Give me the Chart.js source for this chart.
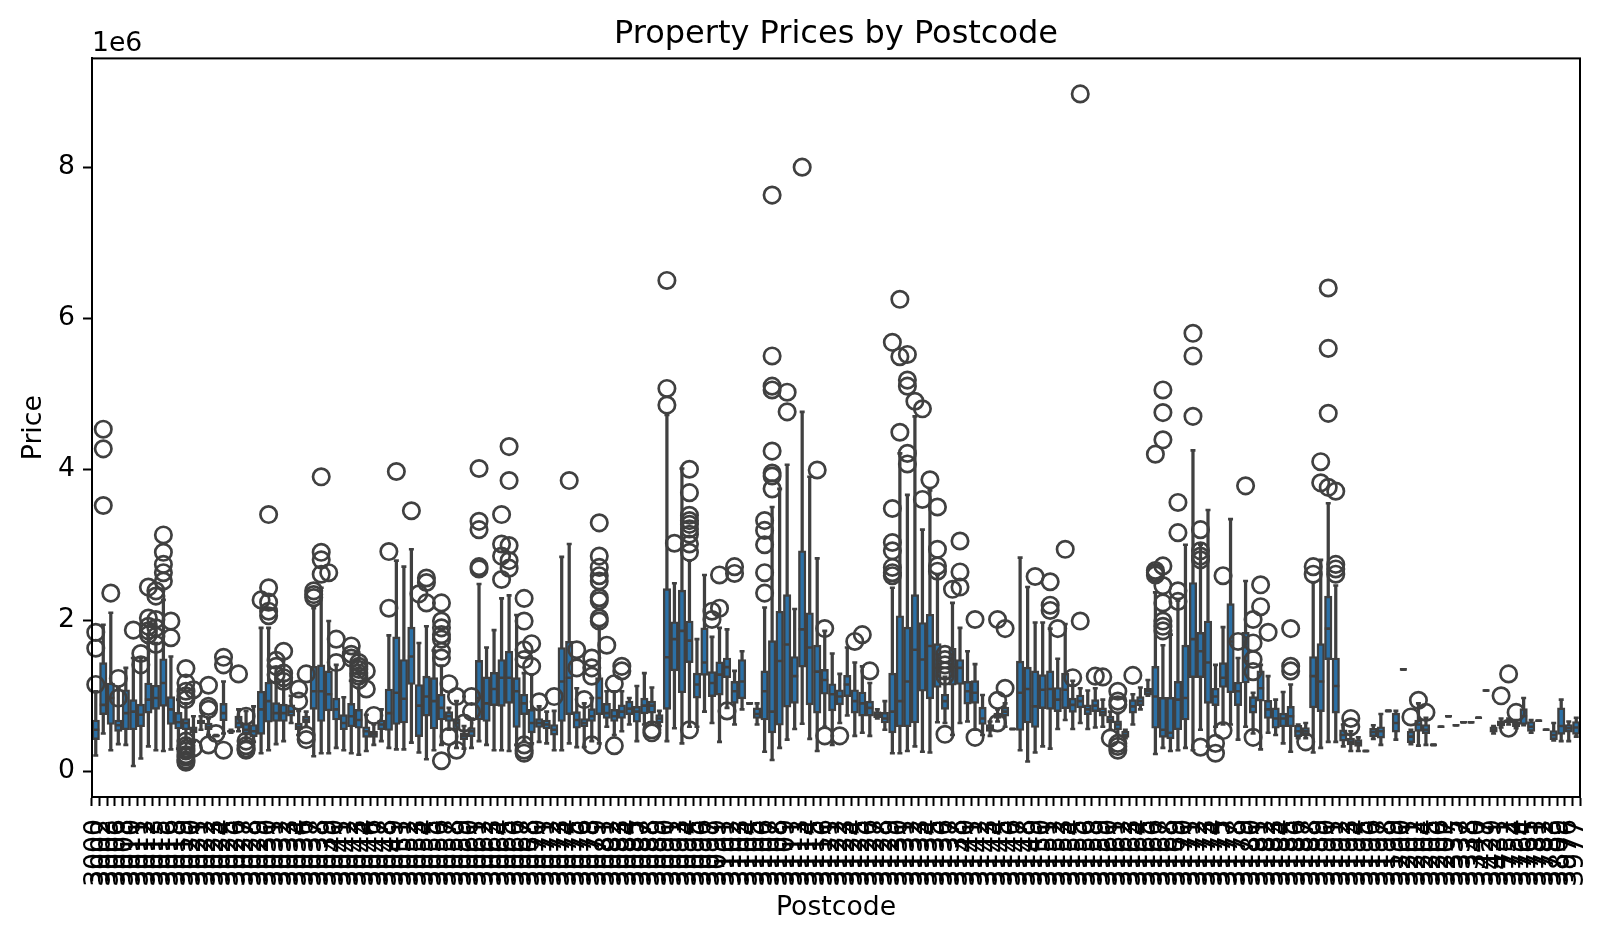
<!DOCTYPE html>
<html>
<head>
<meta charset="utf-8">
<title>Property Prices by Postcode</title>
<script src="https://cdn.jsdelivr.net/npm/chart.js@4"></script>
<style>
  body { margin: 0; background: #fff; }
  canvas { display: block; }
</style>
</head>
<body>
<canvas id="boxChart" width="1607" height="940"></canvas>
<script>
// Property prices by postcode, values in millions (axis offset 1e6)
const postcodes = [
  3000,3002,3003,3006,3008,3010,3011,3012,3013,3015,
  3016,3018,3019,3020,3021,3022,3023,3024,3025,3026,
  3027,3028,3029,3030,3031,3032,3033,3034,3036,3037,
  3038,3039,3040,3041,3042,3043,3044,3046,3047,3048,
  3049,3051,3052,3053,3054,3055,3056,3057,3058,3059,
  3060,3061,3062,3063,3064,3065,3066,3067,3068,3070,
  3071,3072,3073,3074,3075,3076,3078,3079,3081,3082,
  3083,3084,3085,3087,3088,3089,3090,3091,3093,3094,
  3095,3096,3097,3099,3101,3102,3103,3104,3105,3106,
  3107,3108,3109,3111,3113,3114,3115,3116,3121,3122,
  3123,3124,3125,3126,3127,3128,3129,3130,3131,3132,
  3133,3134,3135,3136,3137,3138,3140,3141,3142,3143,
  3144,3145,3146,3147,3148,3149,3150,3151,3152,3153,
  3154,3155,3156,3158,3159,3160,3161,3162,3163,3164,
  3165,3166,3167,3168,3169,3170,3171,3172,3173,3174,
  3175,3177,3178,3179,3180,3181,3182,3183,3184,3185,
  3186,3187,3188,3189,3190,3191,3192,3193,3194,3195,
  3196,3197,3198,3199,3200,3201,3202,3204,3205,3206,
  3207,3335,3337,3338,3340,3427,3429,3431,3752,3754,
  3764,3765,3781,3782,3783,3809,3976,3977
];
const whiskerLow = [
  .21,.50,.28,.36,.35,.07,.17,.33,.28,.27,
  .29,.30,.42,.39,.55,.48,.47,.50,.51,.53,
  .40,.39,.24,.28,.36,.40,.64,.48,.59,.20,
  .24,.24,.31,.28,.24,.22,.27,.35,.40,.31,
  .29,.29,.38,.25,.16,.28,.35,.55,.31,.30,
  .31,.40,.35,.28,.28,.27,.35,.40,.37,.39,
  .37,.28,.28,.37,.32,.32,.40,.37,.59,.48,
  .53,.62,.40,.62,.64,.60,.40,.57,.37,.59,
  .59,.79,.64,.39,.84,.62,.82,.90,.62,.26,
  .15,.31,.42,.56,.63,.43,.27,.59,.35,.64,
  .74,.47,.51,.47,.70,.55,.24,.24,.27,.33,
  .26,.25,.65,.64,.48,.64,.66,.55,.48,.47,
  .66,.59,.56,.28,.13,.25,.33,.30,.56,.68,
  .56,.64,.56,.58,.59,.55,.48,.44,.62,.82,
  1.00,.23,.31,.27,.28,.31,.28,.55,.33,.59,
  .62,.62,.42,.59,.50,.29,.51,.48,.37,.26,
  .44,.44,.25,.31,.39,.39,.33,.27,.27,.27,
  .43,.35,.80,.42,1.35,.36,.34,.35,.35,.59,
  .73,.61,.65,.65,.71,1.07,.50,.58,.62,.57,
  .61,.51,.67,.55,.41,.40,.40,.46
];
const boxQ1 = [
  .42,.75,.62,.53,.55,.55,.59,.77,.82,.86,
  .62,.56,.55,.51,.63,.55,.47,.67,.52,.57,
  .48,.46,.49,.65,.66,.66,.73,.55,.64,.82,
  .66,.80,.68,.55,.59,.57,.45,.45,.55,.54,
  .62,.64,1.15,.46,.73,.56,.68,.66,.55,.42,
  .46,.68,.66,.87,.86,.90,.58,.75,.51,.58,
  .56,.48,.66,.75,.57,.59,.66,.75,.70,.66,
  .70,.75,.65,.76,.77,.64,.82,1.33,1.04,1.44,
  .97,1.27,.99,1.01,1.24,.90,.96,.90,.70,.68,
  .51,.61,.85,.90,1.38,.88,.77,1.02,.80,.88,
  .99,.77,.73,.73,.71,.64,.51,.59,.59,.64,
  1.06,.96,1.11,.82,1.14,1.15,.89,.90,.62,.53,
  .70,.73,.56,.54,.64,.58,.83,.82,.79,.83,
  .78,.84,.75,.79,.73,.64,.55,.45,.77,.87,
  1.01,.57,.45,.43,.55,.68,1.24,1.24,.90,.87,
  1.11,1.04,.87,1.17,.77,.93,.70,.57,.59,.59,
  .46,.47,.84,.79,1.48,.77,.40,.35,.33,.27,
  .46,.44,.80,.52,1.35,.38,.53,.50,.35,.59,
  .73,.61,.65,.65,.71,1.07,.52,.60,.64,.59,
  .62,.53,.67,.55,.42,.49,.52,.49
];
const boxMedian = [
  .55,.88,.97,.61,.77,.79,.75,.95,.97,1.17,
  .82,.65,.64,.55,.65,.59,.47,.77,.53,.64,
  .55,.53,.82,.93,.77,.77,.79,.59,.68,1.06,
  1.06,1.02,.82,.64,.73,.68,.53,.49,.62,.77,
  1.04,.96,1.52,.87,.99,.93,.84,.73,.64,.47,
  .53,.97,.90,1.09,1.24,1.24,1.06,.90,.64,.64,
  .62,.55,1.19,1.24,.68,.64,.73,.97,.77,.73,
  .79,.83,.79,.87,.87,.70,1.51,1.75,1.86,1.73,
  1.15,1.44,1.17,1.28,1.38,1.06,1.19,.90,.76,1.06,
  .79,1.46,1.68,1.26,1.88,1.64,1.32,1.21,1.02,.99,
  1.15,.93,.90,.84,.75,.70,.79,.93,1.19,1.61,
  1.48,1.66,1.37,.93,1.38,1.37,1.06,1.04,.70,.57,
  .74,.79,.56,1.04,1.09,.86,1.08,1.09,.95,1.08,
  .88,.93,.82,.87,.78,.68,.62,.48,.86,.93,
  1.06,.99,.55,.51,.95,.97,1.75,1.59,1.44,.99,
  1.24,1.72,1.06,1.46,.86,1.10,.82,.70,.70,.73,
  .53,.53,1.26,1.19,1.89,1.13,.48,.39,.37,.27,
  .52,.53,.80,.64,1.35,.46,.62,.55,.35,.59,
  .73,.61,.65,.65,.71,1.07,.55,.64,.66,.63,
  .73,.59,.67,.55,.48,.60,.57,.58
];
const boxQ3 = [
  .68,1.44,1.17,.68,1.08,.95,.89,1.17,1.14,1.49,
  .99,.78,.70,.59,.68,.64,.48,.90,.54,.73,
  .64,.62,1.06,1.18,.91,.89,.88,.64,.73,1.39,
  1.41,1.33,.97,.75,.90,.82,.59,.53,.68,1.09,
  1.78,1.48,1.91,1.15,1.26,1.24,1.02,.79,.70,.51,
  .58,1.47,1.25,1.31,1.48,1.59,1.24,1.02,.82,.70,
  .68,.62,1.64,1.72,.79,.70,.83,1.24,.90,.82,
  .88,.93,.86,.97,.93,.75,2.42,1.98,2.40,1.99,
  1.30,1.90,1.32,1.45,1.50,1.19,1.48,.90,.84,1.33,
  1.73,2.12,2.34,1.52,2.92,2.10,1.67,1.35,1.16,1.08,
  1.27,1.08,1.05,.93,.79,.78,1.30,2.06,1.91,2.34,
  1.97,2.08,1.69,1.02,1.63,1.48,1.19,1.20,.85,.62,
  .77,.85,.56,1.46,1.38,1.33,1.28,1.33,1.11,1.30,
  .97,1.01,.88,.95,.84,.73,.67,.53,.95,.99,
  1.10,1.39,.98,.98,1.19,1.67,2.50,1.84,1.99,1.10,
  1.44,2.22,1.18,1.84,.99,1.33,.94,.84,.77,.86,
  .61,.58,1.52,1.69,2.32,1.50,.55,.44,.42,.27,
  .57,.59,.80,.77,1.35,.53,.68,.62,.35,.59,
  .73,.61,.65,.65,.71,1.07,.59,.67,.68,.66,
  .83,.66,.67,.55,.54,.84,.62,.66
];
const whiskerHigh = [
  1.06,1.94,2.10,1.10,1.37,1.50,1.50,1.81,1.70,2.27,
  1.52,.95,.90,.73,.73,.70,.48,1.19,.55,.82,
  .80,.86,1.90,1.90,1.28,1.20,1.00,.80,.79,2.16,
  2.43,1.99,1.41,.98,1.20,1.10,.75,.62,.82,1.80,
  2.79,2.71,2.94,1.70,1.92,1.60,1.40,.84,.93,.60,
  .70,2.48,1.64,1.87,2.29,2.33,2.07,1.30,1.28,.86,
  .79,.80,2.84,3.01,1.10,.90,.97,1.90,1.06,1.06,
  1.06,.97,1.13,1.30,1.11,.80,4.72,2.49,4.01,2.79,
  1.75,2.60,1.78,1.90,1.88,1.33,1.59,.90,.90,2.17,
  3.50,3.74,4.06,2.15,4.76,3.90,2.82,1.86,1.56,1.29,
  1.64,1.44,1.39,1.17,.82,.93,2.43,4.21,3.66,4.70,
  3.20,3.72,2.60,1.25,2.23,1.90,1.59,1.42,1.01,.66,
  .82,.90,.56,2.83,2.44,1.97,1.97,1.89,1.49,1.95,
  1.20,1.10,1.07,1.10,.95,.79,.77,.55,1.02,1.11,
  1.21,2.37,1.67,1.81,2.26,3.00,4.25,3.00,3.46,1.41,
  1.91,3.34,1.50,2.52,1.04,1.41,1.26,.95,1.05,1.15,
  .62,.64,2.50,2.80,3.55,2.46,.62,.53,.45,.27,
  .61,.76,.80,.80,1.35,.55,.90,.71,.35,.59,
  .73,.61,.65,.65,.71,1.07,.60,.70,.70,.68,
  .97,.68,.67,.55,.64,.95,.66,.71
];
const outliers = [
  [1.84,1.63,1.15],[4.53,4.27,3.52],[2.36],[1.23,.97],[],[1.87],[1.56,1.41],[2.44,2.03,1.92,1.86,1.81],[2.39,2.32,2.01,1.90,1.79,1.68],[3.13,2.90,2.74,2.63,2.52],
  [1.99,1.77],[],[1.36,1.17,1.06,1.00,.95,.40,.34,.30,.27,.22,.19,.15,.12],[1.08,.31],[],[1.14,.86,.82,.35],[.50],[1.51,1.41,.28],[],[1.29],
  [.73,.40,.34,.30,.28],[],[2.27],[3.40,2.43,2.24,2.12,2.06],[1.47,1.39,1.28],[1.59,1.30,1.24,1.19],[],[1.09,.93],[1.29,.48,.42],[2.39,2.34,2.30],
  [3.90,2.90,2.80,2.61],[2.63],[1.75,1.44],[],[1.66,1.55,1.50],[1.44,1.39,1.35,1.30,1.26,1.21],[1.33,1.09],[.74],[],[2.91,2.16],
  [3.97],[],[3.45],[2.35],[2.56,2.50,2.23],[],[2.23,1.99,1.90,1.81,1.75,1.59,1.50,.14],[1.16,.46],[.99,.28],[.64],
  [.99,.79],[4.01,3.31,3.20,2.71,2.68],[],[],[3.40,3.01,2.85,2.54],[4.30,3.85,2.99,2.79,2.69],[],[2.29,1.99,1.61,1.48,.35,.28,.24],[1.69,1.39],[.92],
  [],[.99],[],[3.85],[1.61,1.37],[.95],[1.50,1.37,1.26,.35],[3.29,2.85,2.70,2.59,2.52,2.30,2.26,2.03,1.99],[1.67],[1.16,.34],
  [1.39,1.33],[],[],[],[.55,.51],[],[6.50,5.07,4.85],[3.02],[],[4.00,3.69,3.39,3.32,3.27,3.21,3.14,3.01,2.90,.55],
  [],[],[2.12,2.01],[2.60,2.16],[.80],[2.71,2.62],[],[],[],[3.32,3.19,3.00,2.63,2.36],
  [7.63,5.50,5.10,5.05,4.24,3.95,3.91,3.74],[],[5.02,4.76],[],[8.00],[],[3.99],[1.89,.47],[],[.47],
  [],[1.72],[1.81],[1.33],[],[],[5.68,3.48,3.03,2.92,2.70,2.63,2.59],[6.25,5.49,4.49],[5.52,5.18,5.10,4.21,4.07],[4.90],
  [4.80,3.60],[3.86],[3.50,2.94,2.72,2.65],[1.55,1.48,1.41,1.33,1.26,.49],[2.41],[3.05,2.64,2.44],[],[2.01,.45],[],[],
  [2.01,.94,.64],[1.89,1.10],[],[],[],[2.58],[],[2.51,2.20,2.13],[1.89],[2.94],
  [1.24],[8.97,1.99],[],[1.26],[1.25],[.44],[1.06,.93,.88,.37,.33,.28],[],[1.27],[],
  [],[4.20,2.66,2.63,2.60],[5.05,4.75,4.39,2.72,2.46,2.23,1.99,1.92,1.86],[],[3.56,3.16,2.39,2.25],[],[5.80,5.50,4.70],[3.20,2.92,2.85,2.80,.32],[],[.37,.24],
  [2.59,.54],[],[1.72],[3.78],[2.01,1.70,1.48,1.32,.45],[2.47,2.18],[1.84],[],[],[1.89,1.39,1.33],
  [],[.39],[2.71,2.61],[4.10,3.82],[6.40,5.60,4.74,3.76],[3.71,2.74,2.68,2.61],[],[.70,.59],[],[],
  [],[],[],[],[],[.72],[.94],[.78],[],[],
  [],[],[],[],[],[],[],[1.00],[1.29,.57],[.78],
  [],[],[],[],[],[],[],[]
];
const yTicks = [0, 2, 4, 6, 8];

const LINE = '#404040';
const BOX_FILL = '#2b70a6';
const FONT = 'DejaVu Sans';

// top/right spines and the axis offset text
const framePlugin = {
  id: 'frame',
  afterDraw(chart) {
    const { ctx, chartArea: a } = chart;
    ctx.save();
    ctx.strokeStyle = '#000';
    ctx.lineWidth = 2;
    ctx.strokeRect(a.left, a.top, a.right - a.left, a.bottom - a.top);
    ctx.fillStyle = '#000';
    ctx.font = '26.67px "' + FONT + '"';
    ctx.textAlign = 'left';
    ctx.textBaseline = 'alphabetic';
    ctx.fillText('1e6', a.left, a.top - 7);
    ctx.restore();
  }
};

function markDataset(values, radius, order) {
  return {
    type: 'line',
    data: values,
    showLine: false,
    pointStyle: 'line',
    pointRadius: radius,
    pointBorderWidth: 2.6,
    pointBorderColor: LINE,
    order: order
  };
}

const outlierPoints = [];
outliers.forEach((list, i) => list.forEach(v => outlierPoints.push({ x: String(postcodes[i]), y: v })));

new Chart(document.getElementById('boxChart').getContext('2d'), {
  type: 'bar',
  plugins: [framePlugin],
  data: {
    labels: postcodes.map(String),
    datasets: [
      {
        data: postcodes.map((p, i) => [whiskerLow[i], whiskerHigh[i]]),
        backgroundColor: LINE,
        barThickness: 2.6,
        grouped: false,
        order: 5
      },
      {
        data: postcodes.map((p, i) => [boxQ1[i], boxQ3[i]]),
        backgroundColor: BOX_FILL,
        borderColor: LINE,
        borderWidth: 2.4,
        borderSkipped: false,
        barThickness: 7.5,
        grouped: false,
        order: 4
      },
      markDataset(whiskerLow, 2.5, 3),
      markDataset(whiskerHigh, 2.5, 3),
      markDataset(boxMedian, 3.5, 2),
      {
        type: 'line',
        data: outlierPoints,
        showLine: false,
        pointStyle: 'circle',
        pointRadius: 8.2,
        pointBorderWidth: 2.7,
        pointBorderColor: LINE,
        pointBackgroundColor: 'transparent',
        order: 1
      }
    ]
  },
  options: {
    responsive: false,
    animation: false,
    events: [],
    layout: { padding: { left: 18, right: 27, top: 0, bottom: 16 } },
    plugins: {
      legend: { display: false },
      tooltip: { enabled: false },
      title: {
        display: true,
        text: 'Property Prices by Postcode',
        color: '#000',
        fullSize: false,
        font: { family: FONT, size: 32, weight: 'normal' },
        padding: { top: 15, bottom: 5 }
      }
    },
    scales: {
      x: {
        afterFit: s => { s.height = 127; s.paddingLeft = 0; s.paddingRight = 0; },
        grid: { drawOnChartArea: false, tickLength: 9, tickWidth: 2, tickColor: '#000' },
        border: { color: '#000', width: 2 },
        ticks: {
          color: '#000',
          autoSkip: false,
          minRotation: 90,
          maxRotation: 90,
          padding: 13,
          font: { family: FONT, size: 26.67 }
        },
        title: {
          display: true,
          text: 'Postcode',
          color: '#000',
          padding: 0,
          font: { family: FONT, size: 26.67 }
        }
      },
      y: {
        min: -0.34,
        max: 9.44,
        afterFit: s => { s.width = 74; },
        afterBuildTicks: s => { s.ticks = yTicks.map(v => ({ value: v })); },
        grid: { drawOnChartArea: false, tickLength: 9, tickWidth: 2, tickColor: '#000' },
        border: { color: '#000', width: 2 },
        ticks: {
          color: '#000',
          padding: 8,
          font: { family: FONT, size: 26.67 }
        },
        title: {
          display: true,
          text: 'Price',
          color: '#000',
          padding: 0,
          font: { family: FONT, size: 26.67 }
        }
      }
    }
  }
});
</script>
</body>
</html>
